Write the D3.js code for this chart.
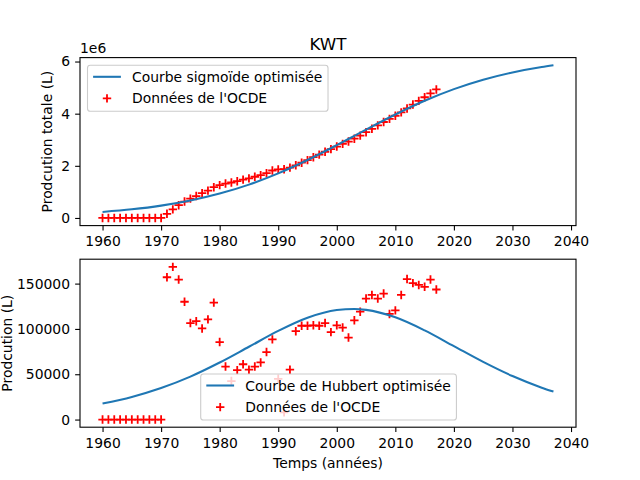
<!DOCTYPE html>
<html>
<head>
<meta charset="utf-8">
<script src="https://cdn.jsdelivr.net/npm/d3@7"></script>
<style>
    body { margin: 0; background: white; }
    svg { font-family: "DejaVu Sans", sans-serif; }
</style>
</head>
<body>
<svg id="chart" width="640" height="480"></svg>
<script>
// OECD data, Kuwait
var years = [1960, 1961, 1962, 1963, 1964, 1965, 1966, 1967, 1968, 1969,
    1970, 1971, 1972, 1973, 1974, 1975, 1976, 1977, 1978, 1979,
    1980, 1981, 1982, 1983, 1984, 1985, 1986, 1987, 1988, 1989,
    1990, 1991, 1992, 1993, 1994, 1995, 1996, 1997, 1998, 1999,
    2000, 2001, 2002, 2003, 2004, 2005, 2006, 2007, 2008, 2009,
    2010, 2011, 2012, 2013, 2014, 2015, 2016, 2017];

// cumulative production (top)
var cumul = [0, 0, 0, 0, 0, 0, 0, 0, 0, 0,
    0, 160000, 330000, 490000, 630000, 740000, 840000, 950000, 1050000, 1180000,
    1260000, 1320000, 1360000, 1410000, 1470000, 1520000, 1580000, 1640000, 1720000, 1820000,
    1860000, 1870000, 1930000, 2020000, 2120000, 2220000, 2330000, 2430000, 2540000, 2640000,
    2740000, 2840000, 2930000, 3040000, 3160000, 3290000, 3420000, 3550000, 3680000, 3800000,
    3920000, 4050000, 4200000, 4350000, 4490000, 4630000, 4780000, 4930000];

// yearly production (bottom)
var annual = [0, 0, 0, 0, 0, 0, 0, 0, 0, 0,
    0, 157000, 168500, 154500, 130000, 106500, 108500, 100500, 110500, 129000,
    85500, 58500, 42500, 54500, 61000, 55000, 58500, 63000, 74500, 88500,
    45000, 8000, 55000, 97500, 103500, 103500, 104000, 103500, 106500, 96500,
    104000, 101500, 90500, 109500, 119000, 133500, 137500, 133500, 139000, 116500,
    120500, 137500, 155000, 150500, 148500, 146500, 154500, 143500];

// fitted curves
var fitYears = [1960, 1965, 1970, 1975, 1980, 1985, 1990, 1995, 2000, 2003,
    2005, 2010, 2015, 2020, 2025, 2030, 2035, 2037];
var sigmoid = [231000, 332000, 474000, 670000, 934000, 1279000, 1709000, 2221000, 2793000, 3150000,
    3389000, 3969000, 4495000, 4942000, 5303000, 5583000, 5791000, 5858000];
var hubbert = [17700, 25000, 34800, 47400, 62900, 80300, 97800, 112300, 120800, 122000,
    121000, 112800, 98400, 81000, 63600, 48000, 35200, 30900];

var xTicks = [1960, 1970, 1980, 1990, 2000, 2010, 2020, 2030, 2040];
var topTicks = [0, 2000000, 4000000, 6000000];
var bottomTicks = [0, 50000, 100000, 150000];

var FS = 13.9;
var left = 80, right = 576;
var blue = "#1f77b4";

var svg = d3.select("#chart");

// x domain with 5% margins like matplotlib
var xmin = d3.min(years.concat(fitYears)), xmax = d3.max(years.concat(fitYears));
var xpad = (xmax - xmin) * 0.05;
var x = d3.scaleLinear().domain([xmin - xpad, xmax + xpad]).range([left, right]);

function padded(a, b) {
    var lo = d3.min(a.concat(b)), hi = d3.max(a.concat(b));
    var p = (hi - lo) * 0.05;
    return [lo - p, hi + p];
}

var plusPath = "M-4.2,0H4.2M0,-4.2V4.2";

function drawPanel(top, bottom, pts, curve, yTicks, yFmt) {
    var y = d3.scaleLinear().domain(padded(pts, curve)).range([bottom, top]);
    var g = svg.append("g");

    // scatter first (zorder 1), line above it
    g.append("g")
        .selectAll("path")
        .data(years)
        .enter()
        .append("path")
        .attr("d", plusPath)
        .attr("transform", function (d, i) {
            return "translate(" + x(d) + "," + y(pts[i]) + ")";
        })
        .attr("stroke", "red")
        .attr("stroke-width", 1.8)
        .attr("fill", "none");

    var line = d3.line()
        .x(function (d, i) { return x(fitYears[i]); })
        .y(function (d) { return y(d); })
        .curve(d3.curveMonotoneX);

    g.append("path")
        .datum(curve)
        .attr("d", line)
        .attr("fill", "none")
        .attr("stroke", blue)
        .attr("stroke-width", 2.08);

    // frame
    g.append("rect")
        .attr("x", left).attr("y", top)
        .attr("width", right - left).attr("height", bottom - top)
        .attr("fill", "none")
        .attr("stroke", "black")
        .attr("stroke-width", 1.1);

    var xa = g.append("g")
        .attr("transform", "translate(0," + bottom + ")")
        .call(d3.axisBottom(x).tickValues(xTicks).tickFormat(d3.format("d"))
            .tickSize(4.86).tickPadding(5.7));
    var ya = g.append("g")
        .attr("transform", "translate(" + left + ",0)")
        .call(d3.axisLeft(y).tickValues(yTicks).tickFormat(yFmt)
            .tickSize(4.86).tickPadding(5.1));

    [xa, ya].forEach(function (a) {
        a.attr("font-family", null).attr("font-size", null);
        a.select(".domain").remove();
        a.selectAll("line").attr("stroke", "black").attr("stroke-width", 1.1);
        a.selectAll("text").style("font-size", FS + "px").attr("fill", "black");
    });
    return g;
}

function drawLegend(x0, y0, labels) {
    var g = svg.append("g");
    var box = g.append("rect");
    var tx = x0 + 5.6 + 27.8 + 11.1;
    var w = 0;
    labels.forEach(function (lab, i) {
        var cy = y0 + 11.5 + i * 21.6;
        if (i == 0) {
            g.append("line")
                .attr("x1", x0 + 5.6).attr("x2", x0 + 5.6 + 27.8)
                .attr("y1", cy).attr("y2", cy)
                .attr("stroke", blue).attr("stroke-width", 2.08);
        } else {
            g.append("path")
                .attr("d", plusPath)
                .attr("transform", "translate(" + (x0 + 5.6 + 13.9) + "," + cy + ")")
                .attr("stroke", "red").attr("stroke-width", 1.8).attr("fill", "none");
        }
        var t = g.append("text")
            .attr("x", tx).attr("y", cy).attr("dy", "0.36em")
            .style("font-size", FS + "px")
            .text(lab);
        w = Math.max(w, t.node().getComputedTextLength());
    });
    box.attr("x", x0).attr("y", y0)
        .attr("width", tx - x0 + w + 5.6).attr("height", 46)
        .attr("rx", 2.8)
        .attr("fill", "white").attr("fill-opacity", 0.8)
        .attr("stroke", "#cccccc").attr("stroke-width", 1.1);
}

drawPanel(57.6, 225.6, cumul, sigmoid, topTicks, function (d) { return d / 1e6; });
drawPanel(259.2, 427.2, annual, hubbert, bottomTicks, d3.format("d"));

drawLegend(87.5, 65.3, ["Courbe sigmoïde optimisée", "Données de l'OCDE"]);
drawLegend(200.7, 374, ["Courbe de Hubbert optimisée", "Données de l'OCDE"]);

// texts
svg.append("text")
    .attr("x", (left + right) / 2).attr("y", 49.5)
    .attr("text-anchor", "middle")
    .style("font-size", "16.7px")
    .text("KWT");

svg.append("text")
    .attr("x", 80).attr("y", 52.5)
    .style("font-size", FS + "px")
    .text("1e6");

svg.append("text")
    .attr("transform", "translate(52," + (57.6 + 225.6) / 2 + ") rotate(-90)")
    .attr("text-anchor", "middle")
    .style("font-size", FS + "px")
    .text("Prodcution totale (L)");

// the reference pushes this label against the left edge
svg.append("text")
    .attr("transform", "translate(11.5," + (259.2 + 427.2) / 2 + ") rotate(-90)")
    .attr("text-anchor", "middle")
    .style("font-size", FS + "px")
    .text("Prodcution (L)");

svg.append("text")
    .attr("x", (left + right) / 2).attr("y", 468)
    .attr("text-anchor", "middle")
    .style("font-size", FS + "px")
    .text("Temps (années)");
</script>
</body>
</html>
